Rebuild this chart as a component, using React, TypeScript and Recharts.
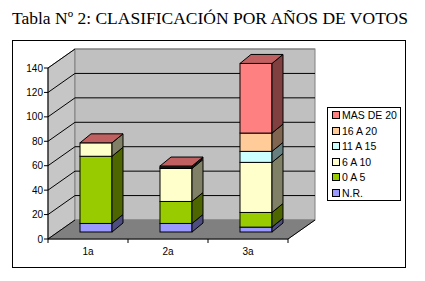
import React from 'react';
import { BarChart, Bar, XAxis, YAxis, ReferenceArea, ReferenceLine } from 'recharts';

const categories = ['1a', '2a', '3a'];
const nr = [7, 7, 4];
const zeroToFive = [55, 18, 12];
const sixToTen = [11, 27, 41];
const elevenToFifteen = [0, 1, 9];
const sixteenToTwenty = [0, 1, 15];
const overTwenty = [0, 0, 57];
const yTicks = [0, 20, 40, 60, 80, 100, 120, 140];

const series = [
  { key: 'nr', name: 'N.R.', values: nr, front: '#9999ff', side: '#4d4d80' },
  { key: 'a0', name: '0 A 5', values: zeroToFive, front: '#99cc00', side: '#4d6600' },
  { key: 'a6', name: '6 A 10', values: sixToTen, front: '#ffffcc', side: '#808066' },
  { key: 'a11', name: '11 A 15', values: elevenToFifteen, front: '#ccffff', side: '#668080' },
  { key: 'a16', name: '16 A 20', values: sixteenToTwenty, front: '#ffcc99', side: '#806650' },
  { key: 'a20', name: 'MAS DE 20', values: overTwenty, front: '#ff8080', side: '#804040' },
];
const topFace = '#c06060';

const data = categories.map((cat, i) => {
  const row: any = { cat };
  series.forEach((s) => (row[s.key] = s.values[i]));
  return row;
});

const W = 425;
const H = 281;
const margin = { top: 68, right: 137, bottom: 12, left: 18 };
const Y_W = 30;
const BAND = (W - margin.left - Y_W - margin.right) / categories.length;
// depth of the 3d box and of the bars
const WX = 27, WY = 19;
const DX = 8, DY = 7;
const SX = 11, SY = 9;
const sans = '"Liberation Sans", Arial, sans-serif';

const makeShape = (s: any, isTop: boolean) => (p: any) => {
  const x = p.x + DX;
  const y = p.y - DY;
  const w = p.width;
  const h = p.height || 0;
  return (
    <g>
      {h > 0 && (
        <>
          <rect x={x} y={y} width={w} height={h} fill={s.front} stroke="#000" strokeWidth={1} />
          <polygon
            points={`${x + w},${y} ${x + w + SX},${y - SY} ${x + w + SX},${y + h - SY} ${x + w},${y + h}`}
            fill={s.side}
            stroke="#000"
            strokeWidth={1}
          />
        </>
      )}
      {isTop && (
        <polygon
          points={`${x},${y} ${x + SX},${y - SY} ${x + w + SX},${y - SY} ${x + w},${y}`}
          fill={topFace}
          stroke="#000"
          strokeWidth={1}
        />
      )}
    </g>
  );
};

const Walls = (p: any) => {
  const { x, y, width: w, height: h } = p;
  const b = y + h;
  return (
    <g>
      <polygon points={`${x},${b} ${x},${y} ${x + WX},${y - WY} ${x + WX},${b - WY}`} fill="#c6c6c6" stroke="#808080" />
      <rect x={x + WX} y={y - WY} width={w} height={h} fill="#c0c0c0" stroke="#808080" />
      <polygon points={`${x},${b} ${x + w},${b} ${x + w + WX},${b - WY} ${x + WX},${b - WY}`} fill="#808080" stroke="#808080" />
      <line x1={x + w} y1={b} x2={x + w + WX} y2={b - WY} stroke="#000" />
    </g>
  );
};

const GridLine = (p: any) => {
  const { x1, y1, x2, y2 } = p;
  const edge = p.value === 0 || p.value === 140;
  return (
    <g>
      {p.value !== 0 && (
        <line x1={x1 + WX} y1={y1 - WY} x2={x2 + WX} y2={y2 - WY} stroke={edge ? '#808080' : '#000'} />
      )}
      <line x1={x1} y1={y1} x2={x1 + WX} y2={y1 - WY} stroke="#000" />
    </g>
  );
};

const XTick = (p: any) => {
  const { x, y, payload, index } = p;
  const last = index === categories.length - 1;
  return (
    <g>
      <line x1={x - BAND / 2} y1={y} x2={x - BAND / 2} y2={y + 4} stroke="#000" />
      {last && <line x1={x + BAND / 2} y1={y} x2={x + BAND / 2} y2={y + 4} stroke="#000" />}
      <text x={x} y={y + 16} textAnchor="middle" fontSize={10} fontFamily={sans} fill="#000">
        {payload.value}
      </text>
    </g>
  );
};

export default function App() {
  return (
    <div style={{ position: 'absolute', left: 0, top: 0, width: W, height: H, background: '#fff' }}>
      <div
        style={{
          position: 'absolute',
          left: 12,
          top: 10,
          fontFamily: '"Liberation Serif", "Times New Roman", serif',
          fontSize: 17.5,
          lineHeight: 1,
          whiteSpace: 'nowrap',
        }}
      >
        Tabla Nº 2: CLASIFICACIÓN POR AÑOS DE VOTOS
      </div>
      <div
        style={{
          position: 'absolute',
          left: 12,
          top: 40,
          width: 394,
          height: 228,
          border: '1px solid #000',
          boxSizing: 'border-box',
        }}
      />
      <div style={{ position: 'absolute', left: 0, top: 0 }}>
        <BarChart width={W} height={H} data={data} margin={margin} barCategoryGap="30%">
          <XAxis
            dataKey="cat"
            axisLine={{ stroke: '#000' }}
            tickLine={false}
            tickSize={0}
            tickMargin={0}
            height={30}
            tick={<XTick />}
            interval={0}
          />
          <YAxis
            domain={[0, 140]}
            ticks={yTicks}
            interval={0}
            width={Y_W}
            tickSize={4}
            tickMargin={1}
            axisLine={{ stroke: '#000' }}
            tickLine={{ stroke: '#000' }}
            tick={{ fill: '#000', fontSize: 10, fontFamily: sans }}
          />
          <ReferenceArea
            x1={categories[0]}
            x2={categories[categories.length - 1]}
            y1={0}
            y2={140}
            shape={<Walls />}
            zIndex={-300}
          />
          {yTicks.map((v) => (
            <ReferenceLine key={v} y={v} shape={(p: any) => <GridLine {...p} value={v} />} zIndex={-200} />
          ))}
          {series.map((s, i) => (
            <Bar
              key={s.key}
              dataKey={s.key}
              name={s.name}
              stackId="a"
              isAnimationActive={false}
              shape={makeShape(s, i === series.length - 1)}
            />
          ))}
        </BarChart>
      </div>
      <div
        style={{
          position: 'absolute',
          left: 327,
          top: 107,
          width: 74,
          height: 94,
          border: '1px solid #000',
          boxSizing: 'border-box',
          background: '#fff',
          fontFamily: sans,
          fontSize: 10.5,
        }}
      >
        {[...series].reverse().map((s, i) => (
          <div
            key={s.key}
            style={{ position: 'absolute', left: 4, top: 1 + i * 15.6, height: 12, display: 'flex', alignItems: 'center', whiteSpace: 'nowrap' }}
          >
            <span
              style={{
                display: 'inline-block',
                width: 6,
                height: 6,
                background: s.front,
                border: '1px solid #000',
                marginRight: 2,
              }}
            />
            {s.name}
          </div>
        ))}
      </div>
    </div>
  );
}
